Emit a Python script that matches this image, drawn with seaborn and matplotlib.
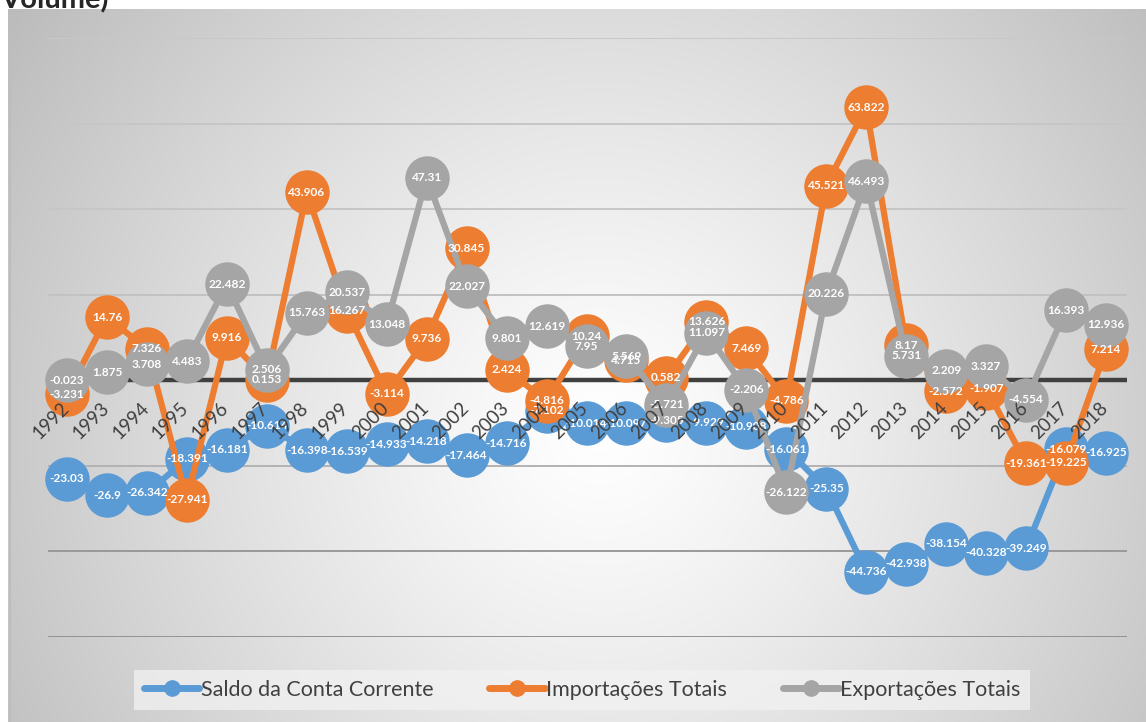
import numpy as np
import pandas as pd
import matplotlib
matplotlib.use("Agg")
import matplotlib.pyplot as plt
import matplotlib.transforms as mtransforms
from matplotlib.lines import Line2D
import seaborn as sns

sns.set_style("white")
plt.rcParams['font.family'] = ['Lato', 'DejaVu Sans']

# dados
years = list(range(1992, 2019))
saldo = [-23.03, -26.9, -26.342, -18.391, -16.181, -10.614, -16.398, -16.539, -14.933,
         -14.218, -17.464, -14.716, -7.102, -10.014, -10.097, -9.305, -9.929, -10.908,
         -16.061, -25.35, -44.736, -42.938, -38.154, -40.328, -39.249, -16.079, -16.925]
importacoes = [-3.231, 14.76, 7.326, -27.941, 9.916, 0.153, 43.906, 16.267, -3.114,
               9.736, 30.845, 2.424, -4.816, 10.24, 4.715, 0.582, 13.626, 7.469,
               -4.786, 45.521, 63.822, 8.17, -2.572, -1.907, -19.361, -19.225, 7.214]
exportacoes = [-0.023, 1.875, 3.708, 4.483, 22.482, 2.506, 15.763, 20.537, 13.048,
               47.31, 22.027, 9.801, 12.619, 7.95, 5.569, -5.721, 11.097, -2.206,
               -26.122, 20.226, 46.493, 5.731, 2.209, 3.327, -4.554, 16.393, 12.936]
series_names = ["Saldo da Conta Corrente", "Importações Totais", "Exportações Totais"]
series_colors = ["#5b9bd5", "#ed7d31", "#a5a5a5"]
y_grid = [-60, -40, -20, 20, 40, 60, 80]
grid_colors = ["#8c8c8c", "#999999", "#b3b3b3", "#c2c2c2", "#c6c6c6", "#c6c6c6", "#c8c8c8"]

df = pd.DataFrame({
    "ano": years * 3,
    "valor": saldo + importacoes + exportacoes,
    "serie": [series_names[0]] * len(years) + [series_names[1]] * len(years)
             + [series_names[2]] * len(years),
})

W, H = 1146, 722
fig = plt.figure(figsize=(W / 100, H / 100), dpi=100)
fig.patch.set_facecolor("white")

# fundo com gradiente radial (area do grafico)
bg = fig.add_axes([8 / W, 0, 1 - 8 / W, (H - 9) / H])
gx, gy = np.meshgrid(np.arange(8, W), np.arange(9, H))
r = np.hypot(gx - 600, gy - 430) / 690
shade = 1 - 0.25 * np.clip(r, 0, 1.05) ** 1.2
bg.imshow(np.dstack([shade] * 3), aspect="auto", extent=(0, 1, 0, 1))
bg.axvline(0.0015, color="#bdbdbd", lw=1.5)
bg.set_axis_off()

ax = fig.add_axes([48 / W, 1 - 637 / H, (1127 - 48) / W, (637 - 38) / H])
ax.patch.set_alpha(0)

for yv, gc in zip(y_grid, grid_colors):
    ax.axhline(yv, color=gc, lw=1.4 if yv > -60 else 2, zorder=0)
ax.axhline(0, color="#404040", lw=3.2, zorder=1)

sns.lineplot(data=df, x="ano", y="valor", hue="serie", hue_order=series_names,
             palette=series_colors, marker="o", markersize=32, markeredgewidth=0,
             linewidth=4.5, legend=False, ax=ax, zorder=2)
for ln in ax.get_lines()[-3:]:
    ln.set_clip_on(False)

# rótulos de dados
for vals in [saldo, importacoes, exportacoes]:
    for x, v in zip(years, vals):
        ax.text(x, v, f"{v:g}", ha="center", va="center", color="white",
                fontsize=8.6, fontweight="bold", zorder=5)

# rótulos do eixo x (cruzando em 0)
off = mtransforms.offset_copy(ax.transData, fig=fig, x=5, y=-19, units="dots")
for x in years:
    ax.text(x, 0, str(x), rotation=45, ha="right", va="top", fontsize=13.5,
            color="#404040", transform=off, zorder=6)

ax.set_xlim(1991.525, 2018.525)
ax.set_ylim(-60, 80)
ax.set_xticks([])
ax.set_yticks([])
ax.set_xlabel("")
ax.set_ylabel("")
sns.despine(ax=ax, left=True, bottom=True)

handles = [Line2D([0], [0], color=c, lw=5, marker="o", markersize=11) for c in series_colors]
leg = fig.legend(handles, series_names, loc="center", bbox_to_anchor=(582 / W, 1 - 690 / H),
                 ncol=3, fontsize=15.5, frameon=True, fancybox=False, handlelength=2.6,
                 handletextpad=0.05, columnspacing=2.6, borderpad=0.45,
                 labelcolor="#404040")
leg.get_frame().set_facecolor("#f2f2f2")
leg.get_frame().set_alpha(0.75)
leg.get_frame().set_edgecolor("none")

fig.text(0.0, 1 - 8 / H, "Volume)", fontsize=21, fontweight="bold", ha="left", va="baseline")

fig.savefig("out.png", dpi=100)
